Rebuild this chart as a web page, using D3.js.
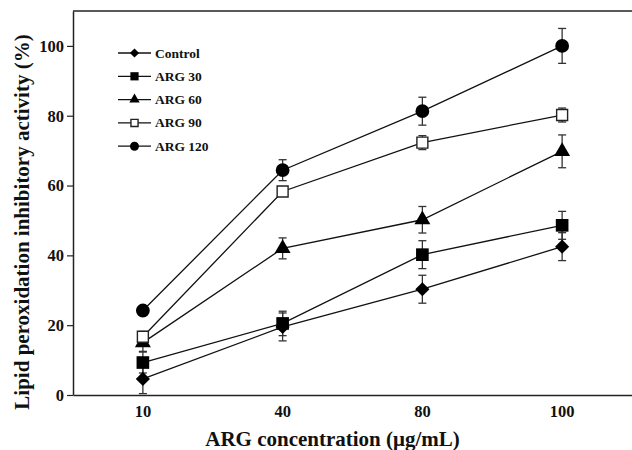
<!DOCTYPE html>
<html>
<head>
<meta charset="utf-8">
<script src="https://cdn.jsdelivr.net/npm/d3@7"></script>
<style>
  body { margin: 0; background: #fff; }
  text { font-family: "Liberation Serif", "Times New Roman", serif; font-weight: bold; fill: #111; }
</style>
</head>
<body>
<div id="chart"></div>
<script>
// Chart data
var concentrations = ["10", "40", "80", "100"];
var seriesNames = ["Control", "ARG 30", "ARG 60", "ARG 90", "ARG 120"];
var controlValues = [4.6, 19.5, 30.3, 42.5];
var controlErrors = [4.2, 4, 4, 4];
var arg30Values = [9.3, 20.5, 40.2, 48.6];
var arg30Errors = [3, 3.5, 4, 4];
var arg60Values = [15, 42, 50.2, 69.8];
var arg60Errors = [2.5, 3, 3.8, 4.7];
var arg90Values = [16.7, 58.3, 72.3, 80.2];
var arg90Errors = [1.5, 1.2, 2, 2];
var arg120Values = [24.2, 64.4, 81.3, 100];
var arg120Errors = [1, 3, 4, 5];
var yTicks = [0, 20, 40, 60, 80, 100];

var svgWidth = 632;
var svgHeight = 450;

var chartMargin = { top: 11, right: 0, bottom: 55, left: 73 };
var chartWidth = svgWidth - chartMargin.left - chartMargin.right;
var chartHeight = svgHeight - chartMargin.top - chartMargin.bottom;

var svg = d3.select("#chart")
  .append("svg")
  .attr("width", svgWidth)
  .attr("height", svgHeight);

var chartGroup = svg.append("g")
  .attr("transform", `translate(${chartMargin.left}, ${chartMargin.top})`);

var xScale = d3.scaleBand()
  .domain(concentrations)
  .range([0, chartWidth]);

var yScale = d3.scaleLinear()
  .domain([0, 110])
  .range([chartHeight, 0]);

var xCenter = d => xScale(d) + xScale.bandwidth() / 2;

// series table with marker shape per series
var series = [
  { name: seriesNames[0], values: controlValues, errors: controlErrors, shape: "diamond" },
  { name: seriesNames[1], values: arg30Values, errors: arg30Errors, shape: "square" },
  { name: seriesNames[2], values: arg60Values, errors: arg60Errors, shape: "triangle" },
  { name: seriesNames[3], values: arg90Values, errors: arg90Errors, shape: "open" },
  { name: seriesNames[4], values: arg120Values, errors: arg120Errors, shape: "circle" }
];

function markerPath(shape, scale) {
  var s = scale || 1;
  if (shape === "circle") return d3.symbol(d3.symbolCircle, 150 * s * s)();
  if (shape === "square") return d3.symbol(d3.symbolSquare, 160 * s * s)();
  if (shape === "open") return d3.symbol(d3.symbolSquare, 120 * s * s)();
  if (shape === "triangle") return d3.symbol(d3.symbolTriangle, 110 * s * s)();
  return d3.symbol(d3.symbolSquare, 100 * s * s)();
}

function drawMarker(g, shape, x, y, scale) {
  var p = g.append("path")
    .attr("d", markerPath(shape, scale))
    .attr("transform", `translate(${x},${y})` + (shape === "diamond" ? " rotate(45)" : ""));
  if (shape === "open") {
    p.attr("fill", "#fff").attr("stroke", "#222").attr("stroke-width", 1.4);
  } else {
    p.attr("fill", "#000");
  }
}

// top frame line
chartGroup.append("line")
  .attr("x1", 0).attr("x2", chartWidth)
  .attr("y1", 0).attr("y2", 0)
  .attr("stroke", "#222").attr("stroke-width", 1.5);

// y axis
var leftAxis = d3.axisLeft(yScale)
  .tickValues(yTicks)
  .tickSize(6)
  .tickSizeOuter(0)
  .tickPadding(3);

var yAxis = chartGroup.append("g").call(leftAxis);
yAxis.select(".domain").attr("stroke", "#222").attr("stroke-width", 1.5);
yAxis.selectAll(".tick line").attr("stroke", "#222").attr("stroke-width", 1.2);
yAxis.selectAll("text").style("font-size", "16.5px");

// x axis
var bottomAxis = d3.axisBottom(xScale)
  .tickSize(0)
  .tickSizeOuter(0)
  .tickPadding(10);

var xAxis = chartGroup.append("g")
  .attr("transform", `translate(0, ${chartHeight})`)
  .call(bottomAxis);
xAxis.select(".domain").attr("stroke", "#222").attr("stroke-width", 1.5);
xAxis.selectAll("text").style("font-size", "16.5px");

// lines
var line = d3.line()
  .x((d, i) => xCenter(concentrations[i]))
  .y(d => yScale(d));

series.forEach(function(s) {
  chartGroup.append("path")
    .datum(s.values)
    .attr("d", line)
    .attr("fill", "none")
    .attr("stroke", "#111")
    .attr("stroke-width", 1.3);
});

// error bars
series.forEach(function(s) {
  s.values.forEach(function(v, i) {
    var x = xCenter(concentrations[i]);
    var yTop = yScale(v + s.errors[i]);
    var yBot = yScale(Math.max(0, v - s.errors[i]));
    var g = chartGroup.append("g").attr("stroke", "#333").attr("stroke-width", 1.3);
    g.append("line").attr("x1", x).attr("x2", x).attr("y1", yTop).attr("y2", yBot);
    g.append("line").attr("x1", x - 4).attr("x2", x + 4).attr("y1", yTop).attr("y2", yTop);
    g.append("line").attr("x1", x - 4).attr("x2", x + 4).attr("y1", yBot).attr("y2", yBot);
  });
});

// markers
series.forEach(function(s) {
  s.values.forEach(function(v, i) {
    drawMarker(chartGroup, s.shape, xCenter(concentrations[i]), yScale(v), 1);
  });
});

// legend
var legend = chartGroup.append("g")
  .attr("transform", "translate(45, 42)");

series.forEach(function(s, i) {
  var row = legend.append("g").attr("transform", `translate(0, ${i * 23.3})`);
  row.append("line")
    .attr("x1", 0).attr("x2", 33)
    .attr("y1", 0).attr("y2", 0)
    .attr("stroke", "#111").attr("stroke-width", 1.3);
  drawMarker(row, s.shape, 16.5, 0, 0.65);
  row.append("text")
    .attr("x", 37)
    .attr("y", 4.5)
    .style("font-size", "13.5px")
    .text(s.name);
});

// axis titles
svg.append("text")
  .attr("x", chartMargin.left + chartWidth / 2 - 20)
  .attr("y", 446)
  .attr("text-anchor", "middle")
  .style("font-size", "21px")
  .text("ARG concentration (μg/mL)");

svg.append("text")
  .attr("transform", "translate(29, 222) rotate(-90)")
  .attr("text-anchor", "middle")
  .style("font-size", "21px")
  .text("Lipid peroxidation inhibitory activity (%)");
</script>
</body>
</html>
